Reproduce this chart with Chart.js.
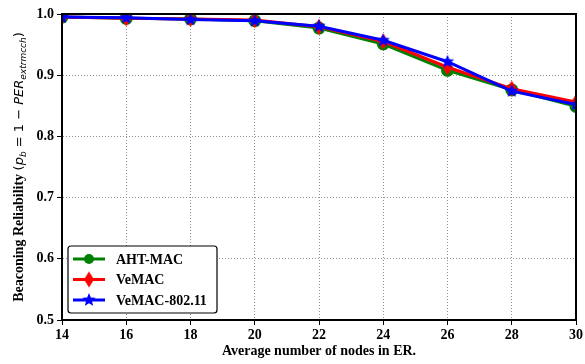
<!DOCTYPE html>
<html>
<head>
<meta charset="utf-8">
<script src="https://cdn.jsdelivr.net/npm/chart.js@4.4.1/dist/chart.umd.min.js"></script>
<style>
  html, body { margin: 0; padding: 0; background: #fff; }
  canvas { display: block; }
</style>
</head>
<body>
<canvas id="myChart" width="585" height="364"></canvas>
<script>
const nodes = [14, 16, 18, 20, 22, 24, 26, 28, 30]
const ahtMac = [0.995, 0.993, 0.992, 0.989, 0.977, 0.951, 0.908, 0.876, 0.849]
const veMac = [0.995, 0.993, 0.992, 0.990, 0.979, 0.955, 0.913, 0.878, 0.856]
const veMac80211 = [0.995, 0.994, 0.991, 0.989, 0.980, 0.957, 0.922, 0.874, 0.852]
const yTicks = [0.5, 0.6, 0.7, 0.8, 0.9, 1.0]

const serifBold = "bold 14px 'Liberation Serif', 'DejaVu Serif', serif"

// filled five point star for the blue series
function makeStar(color, r) {
  const c = document.createElement('canvas')
  c.width = r * 2 + 2
  c.height = r * 2 + 2
  const g = c.getContext('2d')
  g.fillStyle = color
  g.beginPath()
  for (let i = 0; i < 10; i++) {
    const rad = i % 2 === 0 ? r : r * 0.45
    const a = -Math.PI / 2 + i * Math.PI / 5
    const px = r + 1 + rad * Math.cos(a)
    const py = r + 1 + rad * Math.sin(a)
    if (i === 0) g.moveTo(px, py); else g.lineTo(px, py)
  }
  g.closePath()
  g.fill()
  return c
}

// thin tall diamond for the red series
function makeDiamond(color, w, h) {
  const c = document.createElement('canvas')
  c.width = w * 2 + 2
  c.height = h * 2 + 2
  const g = c.getContext('2d')
  g.fillStyle = color
  g.beginPath()
  g.moveTo(w + 1, 1)
  g.lineTo(w * 2 + 1, h + 1)
  g.lineTo(w + 1, h * 2 + 1)
  g.lineTo(1, h + 1)
  g.closePath()
  g.fill()
  return c
}

const starImg = makeStar('#0000ff', 7)
const diamondImg = makeDiamond('#ff0000', 5, 8)

const framePlugin = {
  id: 'frame',
  afterDraw(chart) {
    const ctx = chart.ctx
    const a = chart.chartArea
    ctx.save()
    ctx.strokeStyle = '#000'
    ctx.lineWidth = 2
    ctx.strokeRect(a.left, a.top, a.right - a.left, a.bottom - a.top)

    // y axis title with math part
    ctx.translate(18, (a.top + a.bottom) / 2)
    ctx.rotate(-Math.PI / 2)
    ctx.fillStyle = '#000'
    ctx.textBaseline = 'alphabetic'
    const parts = [
      { t: 'Beaconing Reliability ', f: serifBold, dy: 0 },
      { t: '(', f: "13px 'DejaVu Sans', sans-serif", dy: 0 },
      { t: 'p', f: "italic 13px 'DejaVu Sans', sans-serif", dy: 0 },
      { t: 'b', f: "italic 9px 'DejaVu Sans', sans-serif", dy: 3 },
      { t: ' = 1 \u2212 ', f: "13px 'DejaVu Sans', sans-serif", dy: 0 },
      { t: 'PER', f: "italic 13px 'DejaVu Sans', sans-serif", dy: 0 },
      { t: 'extrmcch', f: "italic 9px 'DejaVu Sans', sans-serif", dy: 3 },
      { t: ')', f: "13px 'DejaVu Sans', sans-serif", dy: 0 }
    ]
    let total = 0
    parts.forEach(p => { ctx.font = p.f; p.w = ctx.measureText(p.t).width; total += p.w })
    let x = -total / 2
    parts.forEach(p => {
      ctx.font = p.f
      ctx.fillText(p.t, x, 5 + p.dy)
      x += p.w
    })
    ctx.restore()

    // legend box
    const bx = 68, by = 246, bw = 149, bh = 67
    ctx.save()
    ctx.fillStyle = '#fff'
    ctx.strokeStyle = '#000'
    ctx.lineWidth = 1.2
    ctx.beginPath()
    ctx.roundRect(bx, by, bw, bh, 3)
    ctx.fill()
    ctx.stroke()
    chart.data.datasets.forEach((ds, i) => {
      const ly = by + 13 + i * 20.5
      ctx.strokeStyle = ds.borderColor
      ctx.lineWidth = 3
      ctx.beginPath()
      ctx.moveTo(bx + 5, ly)
      ctx.lineTo(bx + 37, ly)
      ctx.stroke()
      const cx = bx + 21
      if (ds.pointStyle === 'circle') {
        ctx.fillStyle = ds.borderColor
        ctx.beginPath()
        ctx.arc(cx, ly, 5, 0, Math.PI * 2)
        ctx.fill()
      } else {
        const img = ds.pointStyle
        ctx.drawImage(img, cx - img.width / 2, ly - img.height / 2)
      }
      ctx.fillStyle = '#000'
      ctx.font = serifBold
      ctx.textBaseline = 'middle'
      ctx.fillText(ds.label, bx + 48, ly + 1)
    })
    ctx.restore()
  }
}

new Chart(document.getElementById('myChart'), {
  type: 'line',
  data: {
    labels: nodes,
    datasets: [
      {
        label: 'AHT-MAC',
        data: ahtMac,
        borderColor: '#008000',
        backgroundColor: '#008000',
        pointStyle: 'circle',
        pointRadius: 5,
        borderWidth: 3,
        order: 2
      },
      {
        label: 'VeMAC',
        data: veMac,
        borderColor: '#ff0000',
        backgroundColor: '#ff0000',
        pointStyle: diamondImg,
        borderWidth: 3,
        order: 1
      },
      {
        label: 'VeMAC-802.11',
        data: veMac80211,
        borderColor: '#0000ff',
        backgroundColor: '#0000ff',
        pointStyle: starImg,
        borderWidth: 3,
        order: 0
      }
    ]
  },
  options: {
    responsive: false,
    animation: false,
    layout: { padding: { top: 14, right: 4, left: 0, bottom: 0 } },
    plugins: {
      legend: { display: false },
      tooltip: { enabled: false }
    },
    scales: {
      x: {
        type: 'linear',
        min: 14,
        max: 30,
        afterBuildTicks(scale) { scale.ticks = nodes.map(v => ({ value: v })) },
        afterFit(scale) { scale.height = 44 },
        grid: { color: '#909090', tickColor: '#000', tickLength: 5, lineWidth: 1, tickBorderDash: [] },
        border: { display: true, color: '#000', width: 2, dash: [1, 2] },
        ticks: { color: '#000', font: { family: "'Liberation Serif', serif", size: 14, weight: 'bold' }, padding: 2, maxRotation: 0 },
        title: { display: true, text: 'Average number of nodes in ER.', color: '#000', font: { family: "'Liberation Serif', serif", size: 14, weight: 'bold' }, padding: { top: 0 } }
      },
      y: {
        min: 0.5,
        max: 1.0,
        afterBuildTicks(scale) { scale.ticks = yTicks.map(v => ({ value: v })) },
        afterFit(scale) { scale.width = 62 },
        grid: { color: '#909090', tickColor: '#000', tickLength: 5, lineWidth: 1, tickBorderDash: [] },
        border: { display: true, color: '#000', width: 2, dash: [1, 2] },
        ticks: { color: '#000', font: { family: "'Liberation Serif', serif", size: 14, weight: 'bold' }, padding: 3, callback: v => v.toFixed(1) }
      }
    }
  },
  plugins: [framePlugin]
})
</script>
</body>
</html>
